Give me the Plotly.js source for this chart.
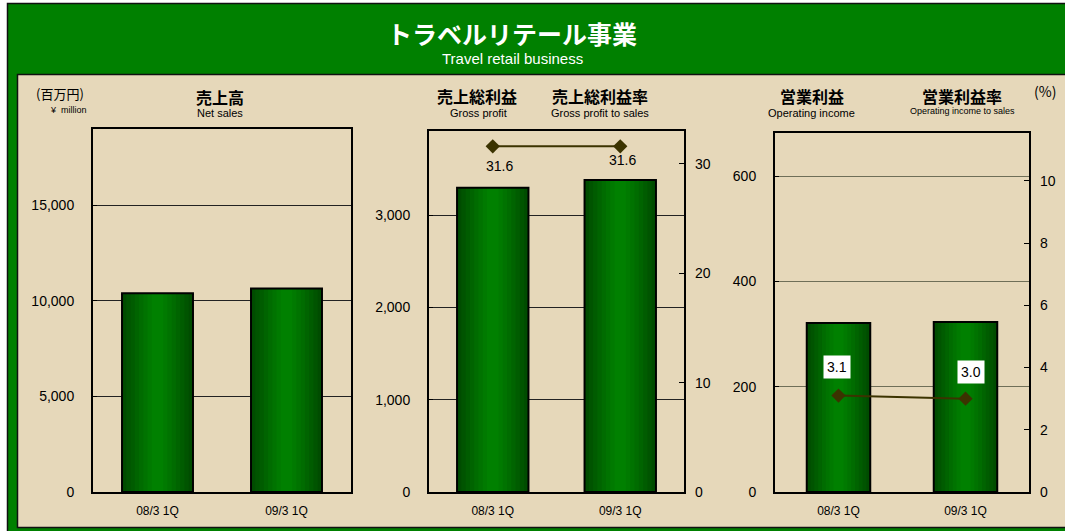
<!DOCTYPE html>
<html>
<head>
<meta charset="utf-8">
<script src="https://cdn.plot.ly/plotly-3.0.1.min.js"></script>
<style>html,body{margin:0;padding:0;background:#fff;}#chart{width:1065px;height:531px;}</style>
</head>
<body>
<div id="chart"></div>
<script>
// ---- data ----
const categories = ['08/3 1Q', '09/3 1Q'];
const netSales = [10400, 10650];          // 売上高 (百万円)
const grossProfit = [3295, 3380];          // 売上総利益
const grossMargin = [31.6, 31.6];          // 売上総利益率 (%)
const opIncome = [321, 323];               // 営業利益
const opMargin = [3.1, 3.0];               // 営業利益率 (%)

// ---- style ----
const W = 1065, H = 531;
const px = v => v / W;
const py = v => 1 - v / H;
const NUM_FONT = 'Liberation Sans, Arial, sans-serif';
const JP_FONT = 'Noto Sans CJK JP, sans-serif';
const gradientSteps = [
  {f: 1.0, c: '#004c00'},
  {f: 0.88, c: '#005400'},
  {f: 0.76, c: '#005c00'},
  {f: 0.64, c: '#006400'},
  {f: 0.52, c: '#006c00'},
  {f: 0.40, c: '#007300'},
  {f: 0.28, c: '#007a00'},
  {f: 0.16, c: '#008000'}
];

function barTraces(y, xa, ya, w) {
  const t = gradientSteps.map(s => ({
    type: 'bar', x: categories, y: y, xaxis: xa, yaxis: ya,
    width: w * s.f, marker: {color: s.c, line: {width: 0}},
    hoverinfo: 'skip', showlegend: false
  }));
  t.push({
    type: 'bar', x: categories, y: y, xaxis: xa, yaxis: ya, width: w,
    marker: {color: 'rgba(0,0,0,0)', line: {color: '#000', width: 2}},
    hoverinfo: 'skip', showlegend: false
  });
  return t;
}

const lineColor = '#3b3300';
const traces = [].concat(
  barTraces(netSales, 'x', 'y', 0.55),
  barTraces(grossProfit, 'x2', 'y2', 0.56),
  barTraces(opIncome, 'x3', 'y4', 0.5),
  [{
    type: 'scatter', mode: 'lines+markers', x: categories, y: grossMargin,
    xaxis: 'x2', yaxis: 'y3', line: {color: lineColor, width: 2},
    marker: {symbol: 'diamond', size: 11, color: lineColor}, showlegend: false, hoverinfo: 'skip'
  }, {
    type: 'scatter', mode: 'lines+markers', x: categories, y: opMargin,
    xaxis: 'x3', yaxis: 'y5', line: {color: lineColor, width: 2},
    marker: {symbol: 'diamond', size: 11, color: lineColor}, showlegend: false, hoverinfo: 'skip'
  }]
);

const yTickFont = {family: NUM_FONT, size: 14, color: '#000'};
const xTickFont = {family: NUM_FONT, size: 12, color: '#000'};

function xAxis(l, r, anchor) {
  return {
    domain: [px(l), px(r)], anchor: anchor, type: 'category',
    showline: true, linecolor: '#000', linewidth: 2, mirror: true,
    ticks: '', tickfont: xTickFont, ticklabelstandoff: 7,
    showgrid: false, zeroline: false, fixedrange: true
  };
}
function yLeft(top, range, dtick, anchor, grid) {
  return {
    domain: [py(492), py(top)], anchor: anchor, range: range, dtick: dtick,
    tickformat: ',d', showline: true, linecolor: '#000', linewidth: 2, mirror: true,
    ticks: 'inside', ticklen: 4, tickcolor: '#000',
    showgrid: true, gridcolor: grid, gridwidth: 1,
    zeroline: false, tickfont: yTickFont, ticklabelstandoff: 14, fixedrange: true
  };
}
function yRight(overlay, anchor, range, dtick) {
  return {
    overlaying: overlay, side: 'right', anchor: anchor, range: range, dtick: dtick,
    showline: false, ticks: 'inside', ticklen: 5, tickcolor: '#000',
    showgrid: false, zeroline: false, tickfont: yTickFont, ticklabelstandoff: 10, fixedrange: true
  };
}

const ann = [];
function txt(x, y, text, size, bold, font, extra) {
  ann.push(Object.assign({
    xref: 'paper', yref: 'paper', x: px(x), y: py(y), xanchor: 'center', yanchor: 'middle',
    text: bold ? '<b>' + text + '</b>' : text, showarrow: false,
    font: {family: font || JP_FONT, size: size, color: '#000'}
  }, extra || {}));
}
// main title
txt(512, 33, 'トラベルリテール事業', 25, true, JP_FONT, {font: {family: JP_FONT, size: 25, color: '#fff'}});
txt(512, 58, 'Travel retail business', 15, false, NUM_FONT, {font: {family: NUM_FONT, size: 15, color: '#fff'}});
// panel headings
txt(60, 93, '(百万円)', 13, false);
txt(68, 110, '¥  million', 9, false, NUM_FONT);
txt(220, 97, '売上高', 16, true);
txt(220, 113, 'Net sales', 11, false, NUM_FONT);
txt(477, 96, '売上総利益', 16, true);
txt(478, 113, 'Gross profit', 11, false, NUM_FONT);
txt(600, 96, '売上総利益率', 16, true);
txt(600, 113, 'Gross profit to sales', 11, false, NUM_FONT);
txt(812, 96, '営業利益', 16, true);
txt(812, 113, 'Operating income', 11, false, NUM_FONT);
txt(962, 96, '営業利益率', 16, true);
txt(962, 111, 'Operating income to sales', 9, false, NUM_FONT);
txt(1045, 91, '(%)', 14, false);

// value labels
const gmShift = [{dx: 7, dy: -20}, {dx: 2, dy: -14}];
grossMargin.forEach((v, i) => ann.push({
  xref: 'x2', yref: 'y3', x: categories[i], y: v, text: v.toFixed(1), showarrow: false,
  xshift: gmShift[i].dx, yshift: gmShift[i].dy,
  font: {family: NUM_FONT, size: 14, color: '#000'}
}));
const omShift = [{dx: -2, dy: 29}, {dx: 5, dy: 27}];
opMargin.forEach((v, i) => ann.push({
  xref: 'x3', yref: 'y5', x: categories[i], y: v, text: v.toFixed(1), showarrow: false,
  xshift: omShift[i].dx, yshift: omShift[i].dy, bgcolor: '#fff', borderpad: 3,
  font: {family: NUM_FONT, size: 14, color: '#000'}
}));

const layout = {
  width: W, height: H, margin: {l: 0, r: 0, t: 0, b: 0},
  paper_bgcolor: '#fff', plot_bgcolor: '#ffffcc',
  barmode: 'overlay', showlegend: false,
  shapes: [
    {type: 'rect', xref: 'paper', yref: 'paper', x0: px(7.5), x1: px(1075), y0: py(545), y1: py(3.5),
     fillcolor: '#008000', line: {color: '#111', width: 1.5}, layer: 'below'},
    {type: 'rect', xref: 'paper', yref: 'paper', x0: px(17.5), x1: px(1075), y0: py(527.5), y1: py(74.5),
     fillcolor: '#e6d8ba', line: {color: '#111', width: 1.5}, layer: 'below'}
  ],
  annotations: ann,
  xaxis: xAxis(93, 351, 'y'),
  yaxis: yLeft(129, [0, 19000], 5000, 'x', '#222'),
  xaxis2: xAxis(429, 684, 'y2'),
  yaxis2: yLeft(131, [0, 3910], 1000, 'x2', '#222'),
  yaxis3: yRight('y2', 'x2', [0, 33], 10),
  xaxis3: xAxis(775, 1029, 'y4'),
  yaxis4: yLeft(133, [0, 682], 200, 'x3', '#6f6f58'),
  yaxis5: yRight('y4', 'x3', [0, 11.54], 2)
};
layout.yaxis3.domain = layout.yaxis2.domain;
layout.yaxis5.domain = layout.yaxis4.domain;

Plotly.newPlot('chart', traces, layout, {staticPlot: true, displayModeBar: false});
</script>
</body>
</html>
